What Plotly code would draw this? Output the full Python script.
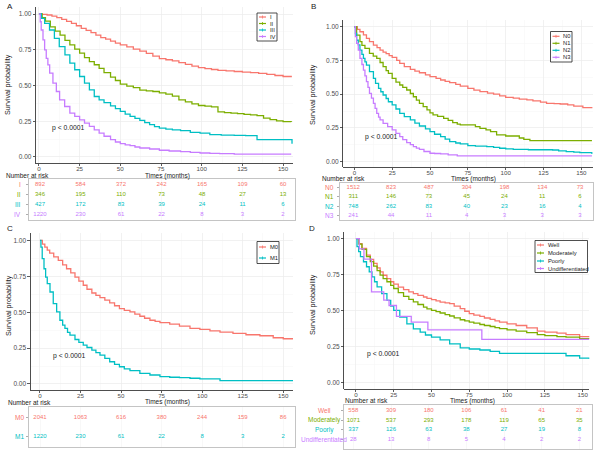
import plotly.graph_objects as go

W, H = 602, 452
RED, GREEN, CYAN, PURPLE = "#F8766D", "#7CAE00", "#00BFC4", "#C77CFF"
FONT = "Liberation Sans, Arial, sans-serif"

# ------------------------------------------------------------------ data
risk_times = [0, 25, 50, 75, 100, 125, 150]
x_ticks = [0, 25, 50, 75, 100, 125, 150]
y_ticks = [0.0, 0.25, 0.5, 0.75, 1.0]
y_tick_labels = ["0.00", "0.25", "0.50", "0.75", "1.00"]

# Panel A - stage
A_names = ["I", "II", "III", "IV"]
A_I_t = [0, 2, 5, 8, 11, 14, 17, 20, 23, 26, 29, 32, 35, 38, 41, 44, 47, 50, 54, 58, 62, 66, 70, 74, 78, 82, 86, 90, 94, 98, 102, 106, 110, 115, 120, 125, 130, 135, 140, 145, 150, 155]
A_I_s = [1.0, 0.998, 0.993, 0.985, 0.975, 0.962, 0.948, 0.934, 0.918, 0.90, 0.885, 0.87, 0.852, 0.835, 0.825, 0.81, 0.797, 0.784, 0.77, 0.755, 0.74, 0.725, 0.705, 0.688, 0.68, 0.672, 0.66, 0.648, 0.635, 0.625, 0.618, 0.612, 0.606, 0.602, 0.598, 0.594, 0.59, 0.585, 0.578, 0.57, 0.563, 0.558]
A_II_t = [0, 2, 4, 7, 10, 13, 16, 19, 22, 25, 28, 31, 34, 37, 40, 44, 47, 50, 54, 58, 62, 66, 70, 74, 78, 82, 86, 90, 94, 98, 102, 106, 110, 114, 118, 122, 126, 130, 134, 138, 142, 146, 150, 155]
A_II_s = [1.0, 0.975, 0.95, 0.91, 0.88, 0.853, 0.815, 0.784, 0.755, 0.726, 0.695, 0.667, 0.645, 0.62, 0.59, 0.558, 0.535, 0.51, 0.495, 0.485, 0.468, 0.462, 0.458, 0.448, 0.44, 0.425, 0.40, 0.385, 0.372, 0.36, 0.356, 0.35, 0.315, 0.31, 0.307, 0.303, 0.298, 0.295, 0.29, 0.272, 0.262, 0.253, 0.248, 0.244]
A_III_t = [0, 1.5, 3.5, 6.5, 9.5, 12.5, 16, 19, 22, 25, 28, 31, 34, 37, 40, 44, 47, 50, 53, 56, 59, 62, 65, 68, 71, 74, 78, 82, 87, 93, 99, 105, 112, 120, 127, 133, 134, 140, 146, 152, 155.5]
A_III_s = [1.0, 0.97, 0.935, 0.888, 0.83, 0.772, 0.714, 0.656, 0.61, 0.563, 0.516, 0.47, 0.423, 0.40, 0.38, 0.358, 0.338, 0.319, 0.30, 0.284, 0.27, 0.256, 0.24, 0.226, 0.212, 0.202, 0.195, 0.19, 0.184, 0.172, 0.167, 0.156, 0.153, 0.151, 0.15, 0.149, 0.121, 0.121, 0.121, 0.121, 0.093]
A_IV_t = [0, 0.8, 1.4, 2.5, 3.5, 4.5, 5.5, 6.6, 8.6, 10.7, 12.7, 15.8, 19, 22, 25, 28, 31, 34, 37, 40, 44, 47, 50, 53, 56, 59, 62, 68, 74, 80, 87, 93, 99, 105, 111, 120, 130, 140, 150, 155]
A_IV_s = [1.0, 0.946, 0.888, 0.819, 0.749, 0.69, 0.644, 0.586, 0.516, 0.458, 0.40, 0.353, 0.307, 0.284, 0.26, 0.237, 0.214, 0.19, 0.167, 0.145, 0.121, 0.105, 0.093, 0.085, 0.079, 0.07, 0.063, 0.056, 0.047, 0.042, 0.037, 0.032, 0.028, 0.025, 0.023, 0.02, 0.02, 0.02, 0.02, 0.02]
A_risk_I = [892, 584, 372, 242, 165, 109, 60]
A_risk_II = [346, 195, 110, 73, 48, 27, 13]
A_risk_III = [427, 172, 83, 39, 24, 11, 6]
A_risk_IV = [1220, 230, 61, 22, 8, 3, 2]

# Panel B - N stage
B_names = ["N0", "N1", "N2", "N3"]
B_N0_t = [0, 2, 3.7, 6, 8, 10, 12.6, 15, 17, 19, 21, 23, 25, 28, 30, 33, 37, 40, 43, 47, 50, 54, 57, 60, 63, 67, 70, 75, 79, 83, 88, 92, 96, 100, 105, 109, 114, 118, 123, 127, 132, 136, 141, 145, 151, 157]
B_N0_s = [1.0, 0.98, 0.963, 0.94, 0.914, 0.89, 0.864, 0.845, 0.827, 0.812, 0.80, 0.786, 0.773, 0.75, 0.728, 0.705, 0.684, 0.671, 0.659, 0.643, 0.63, 0.617, 0.605, 0.595, 0.585, 0.572, 0.56, 0.543, 0.53, 0.519, 0.508, 0.50, 0.488, 0.477, 0.47, 0.464, 0.457, 0.45, 0.441, 0.432, 0.43, 0.427, 0.42, 0.412, 0.40, 0.395]
B_N1_t = [0, 1.5, 3.7, 5, 7, 10, 12.5, 14.8, 17, 19, 21, 22.5, 25, 27.5, 30, 32, 34.6, 37, 39, 41, 43, 45.5, 48, 50, 52, 55, 59, 62, 65, 68, 70, 75, 80, 83, 87, 90, 94, 100, 106, 109, 112, 116, 157]
B_N1_s = [1.0, 0.938, 0.889, 0.862, 0.84, 0.802, 0.782, 0.765, 0.735, 0.704, 0.675, 0.654, 0.617, 0.59, 0.568, 0.55, 0.531, 0.505, 0.481, 0.456, 0.432, 0.408, 0.383, 0.362, 0.346, 0.335, 0.321, 0.305, 0.289, 0.278, 0.272, 0.272, 0.26, 0.247, 0.235, 0.222, 0.198, 0.19, 0.19, 0.175, 0.165, 0.156, 0.156]
B_N2_t = [0, 0.7, 1.5, 2.6, 3.7, 5, 6, 7, 8, 10, 12.6, 14, 16, 17.5, 19, 21, 22.5, 25, 27.5, 30, 33, 37, 40, 43, 47, 50, 53, 57, 60, 63, 67, 70, 75, 80, 87.5, 92, 96, 100, 105, 115, 131, 135, 140, 145, 149, 157]
B_N2_s = [1.0, 0.95, 0.90, 0.865, 0.827, 0.795, 0.765, 0.74, 0.716, 0.667, 0.617, 0.58, 0.543, 0.518, 0.494, 0.468, 0.444, 0.42, 0.39, 0.358, 0.333, 0.309, 0.286, 0.264, 0.242, 0.222, 0.203, 0.185, 0.166, 0.148, 0.138, 0.131, 0.119, 0.115, 0.111, 0.105, 0.099, 0.095, 0.091, 0.088, 0.086, 0.08, 0.074, 0.07, 0.067, 0.057]
B_N3_t = [0, 0.7, 1.5, 2.6, 3.7, 5, 6, 7, 8, 9, 10, 11.3, 12.6, 13.7, 14.8, 16, 17, 19, 22, 25, 27.5, 30, 32, 34.6, 37, 39, 41, 43, 46, 50, 53, 57, 62, 68, 157]
B_N3_s = [1.0, 0.926, 0.877, 0.827, 0.765, 0.72, 0.679, 0.636, 0.593, 0.55, 0.506, 0.47, 0.432, 0.395, 0.358, 0.33, 0.309, 0.284, 0.26, 0.235, 0.21, 0.185, 0.163, 0.141, 0.126, 0.111, 0.1, 0.091, 0.075, 0.062, 0.06, 0.057, 0.05, 0.042, 0.042]
B_risk_N0 = [1512, 823, 487, 304, 198, 134, 73]
B_risk_N1 = [311, 146, 73, 45, 24, 11, 6]
B_risk_N2 = [748, 262, 83, 40, 23, 16, 4]
B_risk_N3 = [241, 44, 11, 4, 3, 3, 3]

# Panel C - M stage
C_names = ["M0", "M1"]
C_M0_t = [0, 1.5, 3, 4.5, 6, 8.5, 11.3, 14, 16.4, 19, 21.6, 24, 26.7, 29, 32, 34.5, 37, 40, 43, 46, 49, 52, 55.5, 58.5, 61.6, 64.5, 67.8, 71, 74, 80, 86, 92.5, 98.6, 104.8, 111, 119, 127, 135.6, 143.8, 150, 156]
C_M0_s = [1.0, 0.975, 0.954, 0.932, 0.912, 0.886, 0.861, 0.83, 0.803, 0.774, 0.745, 0.717, 0.688, 0.66, 0.634, 0.618, 0.602, 0.584, 0.565, 0.545, 0.525, 0.513, 0.502, 0.487, 0.472, 0.458, 0.444, 0.436, 0.428, 0.417, 0.403, 0.387, 0.38, 0.37, 0.361, 0.352, 0.343, 0.336, 0.322, 0.315, 0.31]
C_M1_t = [0, 0.6, 1.4, 2.5, 3.5, 4.5, 6.2, 8.2, 10.3, 12.3, 14, 15.4, 17, 18.5, 21.6, 24, 26.7, 29, 32, 34.5, 37, 40, 43, 46, 49, 52, 55.5, 61.6, 67.8, 74, 80, 86, 92.5, 98.6, 111, 156]
C_M1_s = [1.0, 0.954, 0.873, 0.803, 0.745, 0.699, 0.641, 0.56, 0.502, 0.444, 0.41, 0.387, 0.36, 0.34, 0.31, 0.29, 0.271, 0.254, 0.236, 0.218, 0.201, 0.178, 0.155, 0.137, 0.12, 0.105, 0.093, 0.074, 0.0625, 0.051, 0.047, 0.044, 0.04, 0.035, 0.023, 0.023]
C_risk_M0 = [2041, 1063, 616, 380, 244, 159, 86]
C_risk_M1 = [1220, 230, 61, 22, 8, 3, 2]

# Panel D - differentiation
D_names = ["Well", "Moderately", "Poorly", "Undifferentiated"]
D_well_t = [0, 2, 4, 7, 9.5, 11.7, 14, 16, 18, 20.5, 23, 25, 28, 31.5, 35, 38, 41, 44.7, 47, 50, 53, 55.7, 59, 62, 65, 69, 72, 75, 78, 82, 85, 88.8, 92, 95, 100, 106, 113, 120, 125, 133, 139, 148, 154.4]
D_well_s = [1.0, 0.965, 0.932, 0.885, 0.855, 0.827, 0.797, 0.769, 0.745, 0.722, 0.70, 0.683, 0.662, 0.645, 0.63, 0.617, 0.605, 0.594, 0.585, 0.576, 0.567, 0.559, 0.553, 0.548, 0.53, 0.513, 0.495, 0.478, 0.468, 0.459, 0.448, 0.438, 0.428, 0.42, 0.408, 0.396, 0.38, 0.357, 0.35, 0.343, 0.333, 0.319, 0.315]
D_mod_t = [0, 2, 4, 7, 9.5, 11.7, 14, 16, 18, 20.5, 23, 25, 28, 31.5, 35, 38, 41, 44.7, 47, 50, 53, 55.7, 59, 62, 65, 69, 72, 75, 78, 82, 85, 88.8, 92, 95, 100, 106, 113, 120, 125, 133, 139, 148, 154.4]
D_mod_s = [1.0, 0.962, 0.925, 0.874, 0.84, 0.809, 0.777, 0.746, 0.722, 0.70, 0.675, 0.653, 0.625, 0.599, 0.578, 0.56, 0.542, 0.524, 0.512, 0.501, 0.492, 0.483, 0.472, 0.462, 0.449, 0.436, 0.428, 0.42, 0.412, 0.403, 0.396, 0.389, 0.382, 0.375, 0.366, 0.357, 0.347, 0.333, 0.326, 0.319, 0.315, 0.305, 0.303]
D_poor_t = [0, 0.7, 1.8, 3, 5, 7, 8.8, 10.6, 12.3, 14, 17, 20.5, 23, 25, 29, 33.7, 38, 42.5, 46, 50, 55.7, 62, 69, 75, 82, 88.8, 95, 117, 137, 139, 148, 154.4]
D_poor_s = [1.0, 0.944, 0.909, 0.874, 0.839, 0.804, 0.769, 0.734, 0.70, 0.664, 0.618, 0.571, 0.53, 0.501, 0.454, 0.408, 0.373, 0.35, 0.33, 0.315, 0.296, 0.268, 0.24, 0.233, 0.226, 0.217, 0.203, 0.203, 0.203, 0.186, 0.17, 0.163]
D_undiff_t = [0, 2.2, 5.3, 10.3, 18.4, 21.9, 26.8, 36.6, 47.6, 83.3, 154.4]
D_undiff_s = [1.0, 0.929, 0.857, 0.63, 0.573, 0.535, 0.46, 0.42, 0.365, 0.30, 0.30]
D_risk_well = [558, 309, 180, 106, 61, 41, 21]
D_risk_mod = [1071, 537, 293, 178, 119, 65, 35]
D_risk_poor = [337, 126, 63, 38, 27, 19, 8]
D_risk_undiff = [28, 13, 8, 5, 4, 2, 2]

p_text = "p < 0.0001"

# ------------------------------------------------------------------ layout geometry (pixels)
def xdom(l, r):
    return [l / W, r / W]


def ydom(top, bot):
    return [1 - bot / H, 1 - top / H]


def px(x):
    return x / W


def py(y):
    return 1 - y / H


panels = [
    dict(label="A", lab_xy=(5, 6),
         curves=[(A_I_t, A_I_s, RED), (A_II_t, A_II_s, GREEN), (A_III_t, A_III_s, CYAN), (A_IV_t, A_IV_s, PURPLE)],
         names=A_names, risks=[A_risk_I, A_risk_II, A_risk_III, A_risk_IV],
         colors=[RED, GREEN, CYAN, PURPLE],
         px_x=(36, 293), xr=(-1.8, 156.1), px_y=(7, 163), yr=(-0.042, 1.049),
         t_x=(29, 295), t_xr=(-6.8, 157.4), t_y=(179, 220), t_yr=(3.6, -0.6),
         row_lab_x=23, row_lab_anchor="right",
         ytitle=(7, 85), xtitle=(167, 175.5), nar=(4, 175.5), p=(6.8, 0.20),
         leg_box=(257, 13, 277, 41), leg_ys=[17, 23.5, 30, 36.5], leg_x=259),
    dict(label="B", lab_xy=(309, 6),
         curves=[(B_N0_t, B_N0_s, RED), (B_N1_t, B_N1_s, GREEN), (B_N2_t, B_N2_s, CYAN), (B_N3_t, B_N3_s, PURPLE)],
         names=B_names, risks=[B_risk_N0, B_risk_N1, B_risk_N2, B_risk_N3],
         colors=[RED, GREEN, CYAN, PURPLE],
         px_x=(343.3, 592.7), xr=(-7.3, 157.5), px_y=(20, 167), yr=(-0.04, 1.05),
         t_x=(340, 593), t_xr=(-8.8, 158.6), t_y=(183, 220), t_yr=(3.55, -0.55),
         row_lab_x=336, row_lab_anchor="right",
         ytitle=(312, 95), xtitle=(473, 178.5), nar=(320, 178.5), p=(5.7, 0.183),
         leg_box=(550.5, 31.5, 572, 62), leg_ys=[36.3, 43.3, 50.3, 57.3], leg_x=552.5),
    dict(label="C", lab_xy=(5, 228),
         curves=[(C_M0_t, C_M0_s, RED), (C_M1_t, C_M1_s, CYAN)],
         names=C_names, risks=[C_risk_M0, C_risk_M1],
         colors=[RED, CYAN],
         px_x=(30.7, 293), xr=(-5.7, 156.0), px_y=(233, 390), yr=(-0.042, 1.052),
         t_x=(29, 295), t_xr=(-6.8, 157.3), t_y=(407, 447), t_yr=(1.55, -0.55),
         row_lab_x=26, row_lab_anchor="right",
         ytitle=(8, 306), xtitle=(167, 402), nar=(6, 402), p=(6.8, 0.195),
         leg_box=(257, 241.5, 279, 263.5), leg_ys=[247, 258], leg_x=259),
    dict(label="D", lab_xy=(307, 228),
         curves=[(D_well_t, D_well_s, RED), (D_mod_t, D_mod_s, GREEN), (D_poor_t, D_poor_s, CYAN), (D_undiff_t, D_undiff_s, PURPLE)],
         names=D_names, risks=[D_risk_well, D_risk_mod, D_risk_poor, D_risk_undiff],
         colors=[RED, GREEN, CYAN, PURPLE],
         px_x=(344.3, 589.3), xr=(-7.7, 154.4), px_y=(231.5, 389), yr=(-0.045, 1.049),
         t_x=(344, 591.7), t_xr=(-6.2, 158.2), t_y=(405, 449), t_yr=(4.07, -0.64),
         row_lab_x=324, row_lab_anchor="center",
         ytitle=(312, 305), xtitle=(472, 400.5), nar=(343, 400.5), p=(6.0, 0.20),
         leg_box=(535, 240.5, 587.5, 272.5), leg_ys=[245, 253, 261, 268.5], leg_x=537),
]

fig = go.Figure()
layout = dict(width=W, height=H, margin=dict(l=0, r=0, t=0, b=0),
              paper_bgcolor="white", plot_bgcolor="white",
              font=dict(family=FONT, size=7, color="#333333"),
              showlegend=False)
annotations = []
shapes = []

for i, p in enumerate(panels):
    n_plot = i + 1
    n_tab = i + 5
    sp = "" if n_plot == 1 else str(n_plot)
    st = str(n_tab)

    # survival curves
    for (t, s, c) in p["curves"]:
        fig.add_trace(go.Scatter(x=t, y=s, mode="lines", line=dict(color=c, width=1.3, shape="hv"),
                                 xaxis="x" + sp, yaxis="y" + sp, hoverinfo="skip"))
    # risk table numbers
    for r, (vals, c) in enumerate(zip(p["risks"], p["colors"])):
        fig.add_trace(go.Scatter(x=risk_times, y=[r] * len(risk_times), mode="text",
                                 text=[str(v) for v in vals],
                                 textfont=dict(color=c, size=6, family=FONT),
                                 xaxis="x" + st, yaxis="y" + st, hoverinfo="skip"))

    layout["xaxis" + sp] = dict(
        domain=xdom(*p["px_x"]), range=list(p["xr"]), anchor="y" + sp,
        tickmode="array", tickvals=x_ticks, ticktext=[str(v) for v in x_ticks],
        showline=True, linecolor="#222222", linewidth=0.8,
        ticks="outside", ticklen=2, tickcolor="#333333", tickwidth=0.8,
        tickfont=dict(size=6.2, color="#4D4D4D"), ticklabelstandoff=-2,
        showgrid=True, gridcolor="#EBEBEB", gridwidth=0.6, zeroline=False,
        minor=dict(tickmode="linear", tick0=0, dtick=12.5, showgrid=True, gridcolor="#F5F5F5", gridwidth=0.5),
        fixedrange=True)
    layout["yaxis" + sp] = dict(
        domain=ydom(*p["px_y"]), range=list(p["yr"]), anchor="x" + sp,
        tickmode="array", tickvals=y_ticks, ticktext=y_tick_labels,
        showline=True, linecolor="#222222", linewidth=0.8,
        ticks="outside", ticklen=2.5, tickcolor="#333333", tickwidth=0.8,
        tickfont=dict(size=6.5, color="#4D4D4D"),
        showgrid=True, gridcolor="#EBEBEB", gridwidth=0.6, zeroline=False,
        minor=dict(tickmode="linear", tick0=0, dtick=0.125, showgrid=True, gridcolor="#F5F5F5", gridwidth=0.5),
        fixedrange=True)

    nrows = len(p["risks"])
    layout["xaxis" + st] = dict(
        domain=xdom(*p["t_x"]), range=list(p["t_xr"]), anchor="y" + st,
        showline=True, mirror=True, linecolor="#B5B5B5", linewidth=0.8,
        showticklabels=False, ticks="", tickmode="array", tickvals=x_ticks,
        showgrid=True, gridcolor="#F2F2F2", gridwidth=0.5, zeroline=False, fixedrange=True)
    layout["yaxis" + st] = dict(
        domain=ydom(*p["t_y"]), range=list(p["t_yr"]), anchor="x" + st,
        showline=True, mirror=True, linecolor="#B5B5B5", linewidth=0.8,
        tickmode="array", tickvals=list(range(nrows)), showticklabels=False,
        ticks="outside", ticklen=2.5, tickcolor="#9A9A9A", tickwidth=0.8,
        showgrid=False, zeroline=False, fixedrange=True)

    # row labels of the risk table
    for r, (nm, c) in enumerate(zip(p["names"], p["colors"])):
        annotations.append(dict(text=nm, xref="paper", yref="y" + st, x=px(p["row_lab_x"]), y=r,
                                xanchor=p["row_lab_anchor"], yanchor="middle", showarrow=False,
                                font=dict(size=6.5, color=c, family=FONT)))

    # panel letter
    annotations.append(dict(text=p["label"], xref="paper", yref="paper", x=px(p["lab_xy"][0]), y=py(p["lab_xy"][1]),
                            xanchor="left", yanchor="middle", showarrow=False,
                            font=dict(size=8, color="#222222", family=FONT)))
    # axis titles
    annotations.append(dict(text="Survival probability", xref="paper", yref="paper",
                            x=px(p["ytitle"][0]), y=py(p["ytitle"][1]), textangle=-90,
                            xanchor="center", yanchor="middle", showarrow=False,
                            font=dict(size=7.2, color="#222222", family=FONT)))
    annotations.append(dict(text="Times (months)", xref="paper", yref="paper",
                            x=px(p["xtitle"][0]), y=py(p["xtitle"][1]),
                            xanchor="center", yanchor="middle", showarrow=False,
                            font=dict(size=6.5, color="#222222", family=FONT)))
    annotations.append(dict(text="Number at risk", xref="paper", yref="paper",
                            x=px(p["nar"][0]), y=py(p["nar"][1]),
                            xanchor="left", yanchor="middle", showarrow=False,
                            font=dict(size=6.5, color="#222222", family=FONT)))
    # p value
    annotations.append(dict(text=p_text, xref="x" + sp, yref="y" + sp, x=p["p"][0], y=p["p"][1],
                            xanchor="left", yanchor="middle", showarrow=False,
                            font=dict(size=6.8, color="#222222", family=FONT)))

    # legend box
    x0, y0, x1, y1 = p["leg_box"]
    shapes.append(dict(type="rect", xref="paper", yref="paper", x0=px(x0), x1=px(x1), y0=py(y1), y1=py(y0),
                       line=dict(color="#222222", width=0.8), fillcolor="white", layer="above"))
    lx = p["leg_x"]
    for yy, nm, c in zip(p["leg_ys"], p["names"], p["colors"]):
        shapes.append(dict(type="line", xref="paper", yref="paper", x0=px(lx), x1=px(lx + 7),
                           y0=py(yy), y1=py(yy), line=dict(color=c, width=1.2), layer="above"))
        shapes.append(dict(type="line", xref="paper", yref="paper", x0=px(lx + 3.5), x1=px(lx + 3.5),
                           y0=py(yy - 1.5), y1=py(yy + 1.5), line=dict(color=c, width=0.8), layer="above"))
        annotations.append(dict(text=nm, xref="paper", yref="paper", x=px(lx + 8.5), y=py(yy),
                                xanchor="left", yanchor="middle", showarrow=False,
                                font=dict(size=5.8, color="#222222", family=FONT)))

layout["annotations"] = annotations
layout["shapes"] = shapes
fig.update_layout(**layout)
fig.write_html("out.html", config={"displayModeBar": False, "staticPlot": True},
               post_script="document.body.style.margin='0px';document.body.style.overflow='hidden';")
